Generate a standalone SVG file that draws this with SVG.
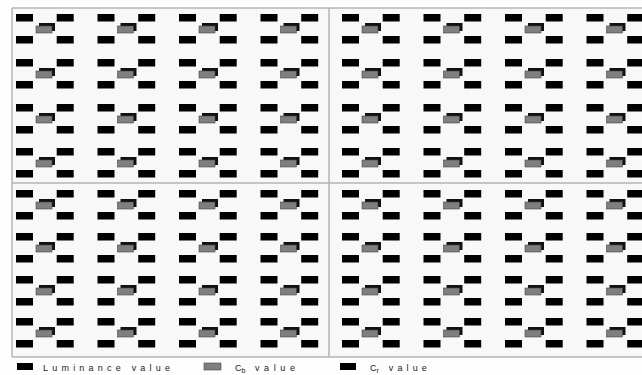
<svg xmlns="http://www.w3.org/2000/svg" xmlns:xlink="http://www.w3.org/1999/xlink" width="642" height="375" viewBox="0 0 642 375">
<style>
.lum{fill:#000}
.sh{fill:#111}
.cb{fill:#7f7f7f;stroke:#444;stroke-width:0.6}
.frame{stroke:#b4b4b4;stroke-width:1.5;fill:none}
.lg{font-family:"Liberation Sans",Arial,sans-serif;font-size:9px;fill:#222}
</style>
<defs>
<g id="cell">
<rect class="lum" x="0" y="0" width="17" height="7.5"/>
<rect class="lum" x="40.7" y="0" width="17" height="7.5"/>
<rect class="lum" x="0" y="22" width="17" height="7.5"/>
<rect class="lum" x="40.7" y="22" width="17" height="7.5"/>
<rect class="sh" x="23" y="9" width="16" height="8"/>
<rect class="cb" x="20" y="12" width="16" height="7"/>
</g>
<g id="row">
<use xlink:href="#cell" x="16"/>
<use xlink:href="#cell" x="97.5"/>
<use xlink:href="#cell" x="179"/>
<use xlink:href="#cell" x="260.5"/>
<use xlink:href="#cell" x="342"/>
<use xlink:href="#cell" x="423.5"/>
<use xlink:href="#cell" x="505"/>
<use xlink:href="#cell" x="586.5"/>
</g>
</defs>
<rect x="0" y="0" width="642" height="375" fill="#fdfdfd"/>
<rect x="12" y="8" width="630" height="349" fill="#f8f8f8"/>
<g id="grid">
<use xlink:href="#row" y="14"/>
<use xlink:href="#row" y="59"/>
<use xlink:href="#row" y="104"/>
<use xlink:href="#row" y="148"/>
<use xlink:href="#row" y="190"/>
<use xlink:href="#row" y="233"/>
<use xlink:href="#row" y="276"/>
<use xlink:href="#row" y="318"/>
</g>
<g id="frame" class="frame">
<line x1="12" y1="8" x2="642" y2="8"/>
<line x1="12" y1="8" x2="12" y2="357"/>
<line x1="12" y1="357" x2="642" y2="357"/>
<line x1="329" y1="8" x2="329" y2="357"/>
<line x1="12" y1="183" x2="642" y2="183"/>
</g>
<g id="legend">
<rect class="lum" x="17" y="363" width="16" height="7"/>
<text class="lg" x="43" y="370.5" textLength="127" lengthAdjust="spacing">Luminance value</text>
<rect class="cb" x="204" y="363" width="17" height="7"/>
<text class="lg" x="235" y="370.5">C<tspan font-size="7" dy="2">b</tspan><tspan dy="-2" dx="9.5" textLength="40" lengthAdjust="spacing">value</tspan></text>
<rect class="lum" x="340" y="363" width="16" height="7"/>
<text class="lg" x="370" y="370.5">C<tspan font-size="7" dy="2">r</tspan><tspan dy="-2" dx="10" textLength="38" lengthAdjust="spacing">value</tspan></text>
</g>
</svg>
